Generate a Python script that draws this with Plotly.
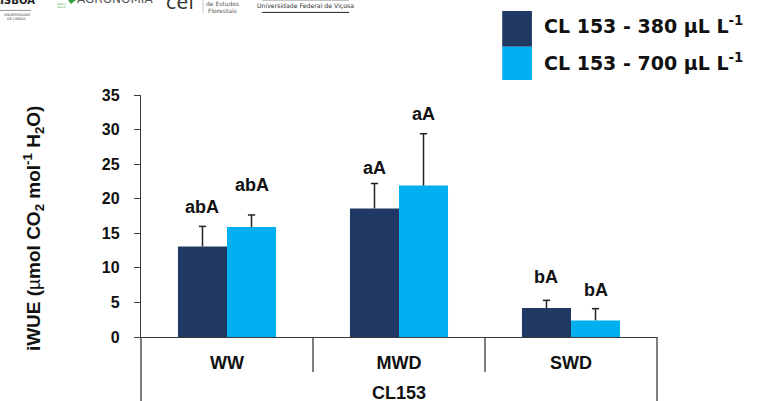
import plotly.graph_objects as go

# ---------------- data ----------------
categories = ["WW", "MWD", "SWD"]
group_title = "CL153"
series_names = ["CL 153 - 380 µL L<sup>-1</sup>", "CL 153 - 700 µL L<sup>-1</sup>"]
series_colors = ["#203864", "#00B0F0"]
values_380 = [13.1, 18.6, 4.2]
errors_380 = [2.9, 3.6, 1.1]
values_700 = [15.9, 21.9, 2.4]
errors_700 = [1.75, 7.5, 1.7]
letters_380 = ["abA", "aA", "bA"]
letters_700 = ["abA", "aA", "bA"]
y_ticks = [0, 5, 10, 15, 20, 25, 30, 35]

# ---------------- layout geometry ----------------
W, H = 763, 401
ML, MR, MT, MB = 141, 106.3, 95, 64.3
PW = W - ML - MR
PH = H - MT - MB
BARGAP = 0.43


def px(xp):
    return (xp - ML) / PW


def py(yp):
    return (H - MB - yp) / PH


AX = "#3a3a3a"
FONT = "Liberation Sans, Arial, sans-serif"
xpos = list(range(len(categories)))
bar_off = (1 - BARGAP) / 4          # centre offset of each bar in a group
cap_half = 0.021                    # half-width of error caps (category units)

fig = go.Figure()
series = [
    (values_380, errors_380, series_names[0], series_colors[0], -bar_off),
    (values_700, errors_700, series_names[1], series_colors[1], bar_off),
]
for vals, errs, name, col, _ in series:
    fig.add_trace(go.Bar(x=xpos, y=vals, name=name, marker_color=col,
                         marker_line_width=0, showlegend=False))

# upper-only error whiskers
for vals, errs, name, col, off in series:
    xs, ys = [], []
    for xc, v, e in zip(xpos, vals, errs):
        xx = xc + off
        xs += [xx, xx, None, xx - cap_half, xx + cap_half, None]
        ys += [v, v + e, None, v + e, v + e, None]
    fig.add_trace(go.Scatter(x=xs, y=ys, mode="lines", showlegend=False, hoverinfo="skip",
                             line=dict(color="#222222", width=1.5)))

fig.update_layout(
    width=W, height=H,
    margin=dict(l=ML, r=MR, t=MT, b=MB, pad=0),
    paper_bgcolor="white", plot_bgcolor="white",
    barmode="group", bargap=BARGAP, bargroupgap=0,
    font=dict(family=FONT, color="#111111"),
)
fig.update_yaxes(
    range=[0, 35], tickvals=y_ticks, ticktext=[f"<b>{t}</b>" for t in y_ticks],
    ticks="outside", ticklen=6, tickwidth=1.3,
    tickcolor=AX, showline=True, linecolor=AX, linewidth=1.3, showgrid=False,
    zeroline=False, tickfont=dict(size=16, family=FONT, color="#111"),
    ticklabelstandoff=11,
)
fig.update_xaxes(
    range=[-0.5, len(categories) - 0.5], tickvals=xpos,
    ticktext=[f"<b>{c}</b>" for c in categories],
    showline=True, linecolor=AX, linewidth=1.3, ticks="", showgrid=False, zeroline=False,
    tickfont=dict(size=18, family=FONT, color="#111"), ticklabelstandoff=9,
)

shapes = []
# extended axis box below the category axis
for xp in (0, 1):
    shapes.append(dict(type="line", xref="paper", yref="paper", x0=xp, x1=xp,
                       y0=0, y1=py(H + 2), line=dict(color=AX, width=1.3)))
for i in range(1, len(categories)):
    xx = i / len(categories)
    shapes.append(dict(type="line", xref="paper", yref="paper", x0=xx, x1=xx,
                       y0=0, y1=py(371.7), line=dict(color=AX, width=1.3)))

# legend swatches (custom, as in reference)
sw_top = [11, 46.7]
sw_bot = [46.7, 80]
for i, col in enumerate(series_colors):
    shapes.append(dict(type="rect", xref="paper", yref="paper", x0=px(502), x1=px(531.7),
                       y0=py(sw_bot[i]), y1=py(sw_top[i]), fillcolor=col, line_width=0))

annotations = []
for i, name in enumerate(series_names):
    annotations.append(dict(xref="paper", yref="paper", x=px(542), y=py([25, 62][i]),
                            xanchor="left", yanchor="middle", showarrow=False,
                            text="<b>" + name + "</b>",
                            font=dict(size=19, family="DejaVu Sans", color="#111")))

# significance letters
lift380 = [19, 16, 23]
lift700 = [30, 20, 19]
for j in xpos:
    annotations.append(dict(x=j - bar_off, y=values_380[j] + errors_380[j], yshift=lift380[j],
                            text="<b>" + letters_380[j] + "</b>", showarrow=False,
                            yanchor="middle", font=dict(size=18, family=FONT, color="#111")))
    annotations.append(dict(x=j + bar_off, y=values_700[j] + errors_700[j], yshift=lift700[j],
                            text="<b>" + letters_700[j] + "</b>", showarrow=False,
                            yanchor="middle", font=dict(size=18, family=FONT, color="#111")))

# group title
annotations.append(dict(xref="paper", yref="paper", x=0.5, y=py(393), text="<b>" + group_title + "</b>",
                        showarrow=False, yanchor="middle", font=dict(size=18, family=FONT, color="#111")))

# y-axis title
annotations.append(dict(xref="paper", yref="paper", x=px(33), y=py(228), textangle=-90,
                        text="<b>iWUE (</b>µ<b>mol CO<sub>2</sub> mol<sup>-1</sup> H<sub>2</sub>O)</b>",
                        showarrow=False, xanchor="center", yanchor="middle",
                        font=dict(size=19, family=FONT, color="#111")))

# cropped logos strip at the top
logo_texts = [
    (15, 1, "<b>LISBOA</b>", 10, "#1a1a1a", "DejaVu Sans"),
    (17, 15, "UNIVERSIDADE", 3.5, "#444", "DejaVu Sans"),
    (17, 19.5, "DE LISBOA", 3.5, "#444", "DejaVu Sans"),
    (62, 6, "Nature<br>Based", 2.6, "#4caf50", "DejaVu Sans"),
    (115, -1, "AGRONOMIA", 12, "#555", "DejaVu Sans"),
    (181, 2, "cef", 19, "#333", "DejaVu Sans"),
    (222, 4, "de Estudos", 6, "#555", "DejaVu Sans"),
    (222, 11, "Florestais", 6, "#555", "DejaVu Sans"),
    (305, 6, "Universidade Federal de Viçosa", 6.2, "#333", "DejaVu Sans"),
]
for xp_, yp_, t, s, c, f in logo_texts:
    annotations.append(dict(xref="paper", yref="paper", x=px(xp_), y=py(yp_), text=t,
                            showarrow=False, xanchor="center", yanchor="middle",
                            font=dict(size=s, color=c, family=f)))
shapes.append(dict(type="line", xref="paper", yref="paper", x0=px(0), x1=px(31),
                   y0=py(10.5), y1=py(10.5), line=dict(color="#777", width=0.8)))
shapes.append(dict(type="line", xref="paper", yref="paper", x0=px(262), x1=px(349),
                   y0=py(12.5), y1=py(12.5), line=dict(color="#222", width=1)))
shapes.append(dict(type="line", xref="paper", yref="paper", x0=px(262), x1=px(349),
                   y0=py(0.5), y1=py(0.5), line=dict(color="#aaa", width=0.8)))
shapes.append(dict(type="line", xref="paper", yref="paper", x0=px(203), x1=px(203),
                   y0=py(0), y1=py(13), line=dict(color="#bbb", width=0.8)))
shapes.append(dict(type="path", xref="paper", yref="paper",
                   path=f"M {px(68)},{py(0)} L {px(76)},{py(0)} L {px(71)},{py(4)} Z",
                   fillcolor="#2e9e3e", line_width=0))

fig.update_layout(shapes=shapes, annotations=annotations)
fig.write_html("out.html", config={"displayModeBar": False},
               post_script="document.body.style.margin='0px';")
